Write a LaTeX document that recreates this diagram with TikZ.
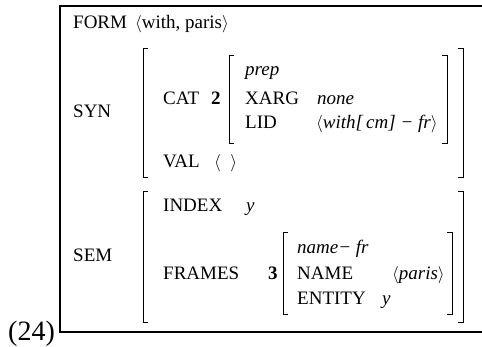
\documentclass[tikz,border=0pt]{standalone}
\usepackage{fontspec}
\setmainfont{Liberation Serif}
\begin{document}
\begin{tikzpicture}[x=1pt,y=-1pt,
  txt/.style={anchor=base west,inner sep=0pt,font=\fontsize{19}{22}\selectfont},
  val/.style={txt,font=\fontsize{19}{22}\selectfont\itshape},
  tag/.style={txt,font=\fontsize{19}{22}\selectfont\bfseries},
  frame/.style={line width=1.3pt},
  brk/.style={line width=0.9pt}]
\useasboundingbox (0,0) rectangle (482,347);
% frame
\coordinate (ftr) at (482,6);
\coordinate (ftl) at (60,6);
\coordinate (fbl) at (60,332);
\coordinate (fbr) at (482,332);
\draw[frame] (ftr) -- (ftl) -- (fbl) -- (fbr);
\node[txt,font=\fontsize{28}{30}\selectfont] (num) at (8,341) {(24)};
% FORM
\node[txt] (form) at (73,29) {FORM};
\node[txt] (formv) at (135,29) {$\langle$with, paris$\rangle$};
% SYN
\node[txt] (syn) at (73,118) {SYN};
\coordinate (sl1) at (148,48); \coordinate (sl2) at (143,48);
\coordinate (sl3) at (143,177); \coordinate (sl4) at (148,177);
\draw[brk] (sl1) -- (sl2) -- (sl3) -- (sl4);
\coordinate (sr1) at (458,48); \coordinate (sr2) at (463,48);
\coordinate (sr3) at (463,177); \coordinate (sr4) at (458,177);
\draw[brk] (sr1) -- (sr2) -- (sr3) -- (sr4);
\node[txt] (cat) at (163,105) {CAT};
\node[tag] (t2) at (211,105) {2};
\coordinate (cl1) at (234,55); \coordinate (cl2) at (229,55);
\coordinate (cl3) at (229,143); \coordinate (cl4) at (234,143);
\draw[brk] (cl1) -- (cl2) -- (cl3) -- (cl4);
\coordinate (cr1) at (442,55); \coordinate (cr2) at (447,55);
\coordinate (cr3) at (447,143); \coordinate (cr4) at (442,143);
\draw[brk] (cr1) -- (cr2) -- (cr3) -- (cr4);
\node[val] (prep) at (245,76) {prep};
\node[txt] (xarg) at (245,105) {XARG};
\node[val] (none) at (317,105) {none};
\node[txt] (lid) at (245,129) {LID};
\node[val] (lidv) at (316,129) {$\langle$with[\,cm] − fr$\rangle$};
\node[txt] (valk) at (163,168) {VAL};
\node[txt] (valv) at (214,168) {$\langle\;\;\rangle$};
% SEM
\node[txt] (sem) at (73,262) {SEM};
\coordinate (ml1) at (148,191); \coordinate (ml2) at (143,191);
\coordinate (ml3) at (143,322); \coordinate (ml4) at (148,322);
\draw[brk] (ml1) -- (ml2) -- (ml3) -- (ml4);
\coordinate (mr1) at (458,191); \coordinate (mr2) at (463,191);
\coordinate (mr3) at (463,322); \coordinate (mr4) at (458,322);
\draw[brk] (mr1) -- (mr2) -- (mr3) -- (mr4);
\node[txt] (index) at (163,212) {INDEX};
\node[val] (indexv) at (246,212) {y};
\node[txt] (frames) at (163,280) {FRAMES};
\node[tag] (t3) at (268,280) {3};
\coordinate (fl1) at (288,232); \coordinate (fl2) at (283,232);
\coordinate (fl3) at (283,314); \coordinate (fl4) at (288,314);
\draw[brk] (fl1) -- (fl2) -- (fl3) -- (fl4);
\coordinate (fr1) at (447,232); \coordinate (fr2) at (452,232);
\coordinate (fr3) at (452,314); \coordinate (fr4) at (447,314);
\draw[brk] (fr1) -- (fr2) -- (fr3) -- (fr4);
\node[val] (namefr) at (297,254) {name− fr};
\node[txt] (name) at (297,280) {NAME};
\node[val] (namev) at (392,280) {$\langle$paris$\rangle$};
\node[txt] (entity) at (297,305) {ENTITY};
\node[val] (entityv) at (382,305) {y};
\end{tikzpicture}
\end{document}
